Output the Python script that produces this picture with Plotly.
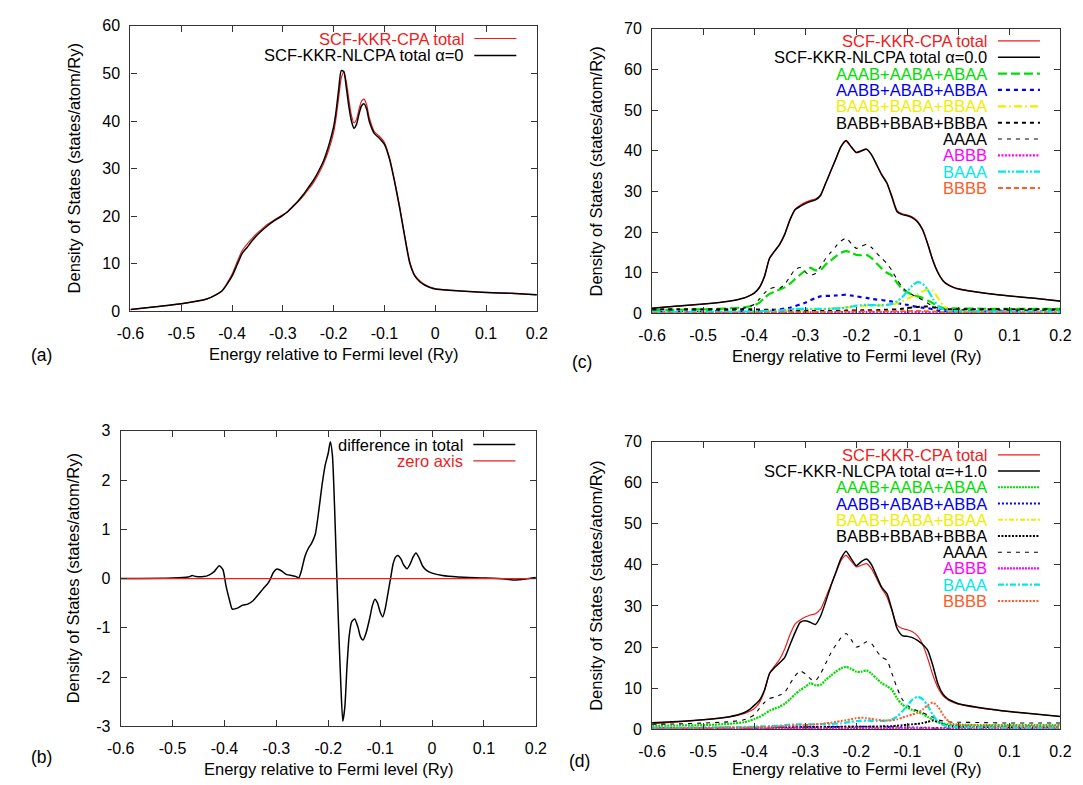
import plotly.graph_objects as go

W, H = 1083, 785

# ---------------- Panel (a) data ----------------
energy_a = [-0.6, -0.55, -0.5, -0.45, -0.43, -0.42, -0.41, -0.40, -0.39, -0.38, -0.37, -0.36,
            -0.35, -0.34, -0.33, -0.32, -0.31, -0.30, -0.29, -0.28, -0.27, -0.26, -0.25, -0.24,
            -0.23, -0.22, -0.21, -0.20, -0.195, -0.19, -0.185, -0.18, -0.175, -0.17, -0.165, -0.16,
            -0.155, -0.15, -0.145, -0.14, -0.135, -0.13, -0.12, -0.11, -0.10, -0.09, -0.08, -0.07,
            -0.06, -0.05, -0.04, -0.03, -0.02, -0.01, 0.0, 0.05, 0.1, 0.15, 0.2]
cpa_total_a = [0.4, 1.0, 1.6, 2.6, 3.6, 4.3, 5.9, 7.8, 10.4, 12.8, 14.2, 15.4,
               16.5, 17.4, 18.3, 19.0, 19.7, 20.3, 21.0, 22.0, 23.0, 24.2, 25.6, 27.0,
               28.8, 31.0, 33.8, 37.6, 40.8, 45.0, 49.0, 50.3, 48.2, 44.5, 41.2, 39.6,
               40.3, 42.5, 44.2, 44.6, 43.4, 40.8, 37.8, 36.8, 35.5, 32.3, 27.5, 22.0,
               16.0, 10.4, 7.6, 6.4, 5.6, 5.1, 4.8, 4.3, 4.0, 3.8, 3.5]
nlcpa_total_a = [0.4, 1.0, 1.6, 2.6, 3.6, 4.3, 5.7, 7.4, 9.8, 12.2, 13.5, 14.9,
                 16.1, 17.1, 18.0, 18.8, 19.5, 20.2, 21.0, 22.1, 23.2, 24.5, 26.0, 27.5,
                 29.4, 31.6, 34.7, 38.8, 42.2, 46.7, 50.6, 50.4, 47.0, 43.0, 40.0, 38.5,
                 39.3, 41.5, 43.2, 43.6, 42.5, 40.0, 37.4, 36.4, 35.1, 32.0, 27.2, 21.7,
                 15.6, 10.1, 7.4, 6.2, 5.5, 5.0, 4.7, 4.3, 4.0, 3.8, 3.5]

# ---------------- Panel (b) data ----------------
energy_b = [-0.6, -0.5, -0.47, -0.462, -0.455, -0.44, -0.43, -0.42, -0.41, -0.403, -0.397, -0.39,
            -0.385, -0.375, -0.365, -0.355, -0.345, -0.335, -0.325, -0.318, -0.312, -0.306, -0.30,
            -0.294, -0.287, -0.28, -0.27, -0.262, -0.257, -0.252, -0.245, -0.238, -0.232, -0.225,
            -0.218, -0.212, -0.206, -0.20, -0.196, -0.192, -0.188, -0.184, -0.18, -0.176, -0.172,
            -0.168, -0.164, -0.16, -0.155, -0.149, -0.143, -0.138, -0.133, -0.127, -0.12, -0.115,
            -0.11, -0.105, -0.10, -0.095, -0.09, -0.085, -0.08, -0.075, -0.07, -0.066, -0.06,
            -0.055, -0.048, -0.042, -0.036, -0.031, -0.025, -0.018, -0.01, 0.0, 0.02, 0.05, 0.1,
            0.14, 0.16, 0.18, 0.2]
diff_total_b = [0.0, 0.01, 0.03, 0.06, 0.04, 0.04, 0.07, 0.14, 0.26, 0.18, -0.15, -0.45,
                -0.62, -0.6, -0.54, -0.52, -0.45, -0.33, -0.2, -0.12, -0.02, 0.12, 0.19,
                0.18, 0.13, 0.08, 0.06, 0.04, 0.01, 0.15, 0.45, 0.62, 0.72, 0.9,
                1.4, 1.9, 2.3, 2.55, 2.78, 2.5, 1.5, 0.2, -1.0, -2.1, -2.9,
                -2.6, -1.8, -1.2, -0.88, -0.82, -0.98, -1.18, -1.25, -1.1, -0.8, -0.55,
                -0.42, -0.5, -0.68, -0.78, -0.6, -0.3, 0.0, 0.3, 0.44, 0.47, 0.4,
                0.28, 0.2, 0.3, 0.45, 0.52, 0.42, 0.25, 0.16, 0.11, 0.06, 0.03, 0.01,
                -0.01, -0.03, -0.01, 0.02]
zero_axis_x = [-0.6, 0.2]
zero_axis_y = [0.0, 0.0]

# ---------------- Panels (c) and (d) data ----------------
energy_cd = [-0.6, -0.55, -0.5, -0.45, -0.42, -0.41, -0.40, -0.39, -0.38, -0.37, -0.36, -0.35,
             -0.34, -0.33, -0.32, -0.31, -0.30, -0.29, -0.28, -0.27, -0.26, -0.25, -0.24, -0.23,
             -0.22, -0.21, -0.20, -0.19, -0.18, -0.17, -0.16, -0.15, -0.14, -0.13, -0.12, -0.11,
             -0.10, -0.09, -0.08, -0.07, -0.06, -0.05, -0.04, -0.03, -0.02, -0.01, 0.0, 0.05,
             0.1, 0.15, 0.2]
cpa_total_cd = [1.3, 1.8, 2.3, 3.0, 3.8, 4.3, 5.0, 6.4, 9.2, 13.6, 15.4, 17.1,
                19.6, 23.0, 25.6, 26.6, 27.3, 27.8, 28.1, 29.2, 32.0, 35.0, 38.0, 41.0,
                42.3, 40.9, 39.5, 39.9, 40.3, 39.0, 36.6, 34.2, 32.2, 28.8, 25.3, 24.5,
                24.2, 23.7, 22.7, 20.7, 17.2, 13.2, 10.1, 8.1, 7.1, 6.5, 6.1, 5.0,
                4.3, 3.7, 3.1]
nlcpa_total_c = [1.3, 1.8, 2.3, 3.0, 3.8, 4.3, 5.0, 6.3, 9.0, 13.5, 15.3, 17.0,
                 19.5, 23.0, 25.5, 26.3, 27.0, 27.5, 27.9, 29.0, 32.0, 35.0, 38.0, 41.0,
                 42.5, 41.0, 39.6, 40.0, 40.4, 39.0, 36.5, 34.0, 32.0, 28.5, 25.0, 24.3,
                 24.0, 23.5, 22.5, 20.5, 17.0, 13.0, 10.0, 8.0, 7.0, 6.4, 6.0, 5.0,
                 4.3, 3.7, 3.0]
aaab_c = [0.8, 0.9, 1.0, 1.2, 1.5, 1.7, 2.0, 2.6, 3.8, 4.8, 5.4, 5.9,
          6.4, 7.3, 8.4, 9.5, 10.5, 11.2, 10.6, 10.7, 12.0, 13.0, 14.0, 14.9,
          15.3, 15.0, 14.4, 14.3, 14.4, 13.6, 12.3, 11.0, 10.0, 9.3, 7.5, 6.0,
          5.2, 4.6, 4.2, 3.8, 3.2, 2.5, 1.8, 1.4, 1.3, 1.25, 1.2, 1.15,
          1.1, 1.1, 1.1]
aabb_c = [0.4, 0.4, 0.45, 0.5, 0.55, 0.6, 0.6, 0.65, 0.7, 0.8, 0.9, 1.0,
          1.2, 1.4, 1.8, 2.2, 2.6, 3.2, 3.8, 4.2, 4.3, 4.3, 4.4, 4.5,
          4.6, 4.4, 4.2, 4.0, 3.8, 3.6, 3.4, 3.3, 3.1, 2.9, 2.6, 2.3,
          2.1, 1.8, 1.6, 1.4, 1.3, 1.0, 0.7, 0.55, 0.5, 0.5, 0.5, 0.45,
          0.45, 0.45, 0.45]
baab_c = [0.2, 0.2, 0.25, 0.3, 0.35, 0.35, 0.4, 0.4, 0.45, 0.5, 0.55, 0.6,
          0.65, 0.7, 0.75, 0.8, 0.85, 0.9, 0.95, 1.0, 1.1, 1.2, 1.3, 1.4,
          1.5, 1.6, 1.7, 1.8, 1.9, 1.9, 2.0, 2.0, 2.1, 2.2, 2.5, 3.0,
          3.6, 4.2, 4.8, 5.4, 5.9, 5.6, 3.8, 2.0, 1.0, 0.7, 0.5, 0.4,
          0.35, 0.3, 0.3]
babb_c = [1.0, 1.0, 1.0, 1.0, 1.0, 1.0, 1.0, 0.95, 0.9, 0.9, 0.85, 0.8,
          0.75, 0.7, 0.65, 0.6, 0.6, 0.6, 0.6, 0.6, 0.6, 0.6, 0.65, 0.65,
          0.7, 0.7, 0.7, 0.75, 0.75, 0.8, 0.8, 0.85, 0.9, 0.95, 1.0, 1.15,
          1.3, 1.45, 1.6, 1.7, 1.7, 1.5, 1.3, 1.1, 1.0, 1.0, 1.0, 1.0,
          1.0, 1.0, 1.0]
aaaa_c = [0.3, 0.4, 0.5, 0.8, 1.3, 1.7, 2.2, 3.5, 5.0, 6.0, 6.4, 6.2,
          7.2, 9.0, 10.8, 11.3, 10.2, 9.4, 9.8, 11.5, 13.5, 15.0, 16.5, 17.8,
          18.5, 17.2, 16.0, 16.5, 17.0, 16.2, 14.8, 13.5, 12.3, 10.5, 8.3, 6.5,
          5.3, 4.6, 4.0, 3.3, 2.5, 1.8, 1.3, 1.1, 1.0, 0.95, 0.9, 0.85,
          0.8, 0.8, 0.8]
abbb_c = [0.15, 0.15, 0.15, 0.15, 0.15, 0.15, 0.15, 0.15, 0.2, 0.2, 0.2, 0.2,
          0.2, 0.2, 0.2, 0.25, 0.25, 0.25, 0.25, 0.25, 0.25, 0.25, 0.3, 0.3,
          0.3, 0.3, 0.3, 0.3, 0.3, 0.3, 0.3, 0.3, 0.3, 0.3, 0.3, 0.3,
          0.3, 0.3, 0.3, 0.3, 0.3, 0.25, 0.2, 0.2, 0.2, 0.2, 0.2, 0.2,
          0.2, 0.2, 0.2]
baaa_c = [0.3, 0.3, 0.35, 0.4, 0.45, 0.5, 0.5, 0.55, 0.6, 0.65, 0.7, 0.75,
          0.85, 0.95, 1.05, 1.1, 1.1, 1.1, 1.1, 1.1, 1.1, 1.15, 1.2, 1.3,
          1.45, 1.65, 1.9, 2.05, 2.1, 2.05, 2.0, 2.0, 2.1, 2.4, 3.0, 4.0,
          5.4, 6.9, 7.7, 7.3, 5.8, 3.6, 1.9, 1.0, 0.7, 0.55, 0.5, 0.45,
          0.4, 0.4, 0.4]
bbbb_c = [0.1, 0.1, 0.1, 0.12, 0.15, 0.15, 0.15, 0.2, 0.2, 0.2, 0.25, 0.25,
          0.25, 0.3, 0.3, 0.3, 0.3, 0.35, 0.35, 0.35, 0.4, 0.4, 0.4, 0.45,
          0.45, 0.45, 0.5, 0.5, 0.5, 0.5, 0.5, 0.5, 0.5, 0.5, 0.55, 0.55,
          0.6, 0.6, 0.6, 0.6, 0.55, 0.5, 0.4, 0.3, 0.25, 0.2, 0.2, 0.2,
          0.2, 0.2, 0.2]

nlcpa_total_d = [1.6, 1.9, 2.3, 3.0, 4.0, 4.7, 5.8, 7.0, 9.5, 13.5, 15.0, 16.2,
                 17.5, 20.5, 23.5, 26.0, 26.4, 26.0, 25.5, 27.5, 31.0, 34.8, 38.2, 41.5,
                 43.3, 41.5, 39.8, 40.8, 41.4, 40.0, 37.2, 34.5, 33.0, 29.0, 24.5, 22.8,
                 22.6, 22.3, 21.6, 20.6, 19.2, 15.5, 11.0, 8.5, 7.3, 6.7, 6.2, 5.1,
                 4.3, 3.7, 3.1]
aaab_d = [0.8, 0.9, 1.0, 1.3, 1.7, 2.0, 2.5, 3.0, 3.7, 4.5, 5.0, 5.5,
          6.2, 7.3, 8.5, 9.5, 10.3, 11.2, 10.7, 10.8, 12.0, 13.0, 14.0, 14.8,
          15.2, 14.7, 14.0, 14.0, 14.3, 13.5, 12.3, 11.2, 10.5, 9.6, 7.5, 6.0,
          5.2, 4.7, 4.2, 3.7, 3.0, 2.3, 1.7, 1.4, 1.2, 1.1, 1.1, 1.0,
          1.0, 1.0, 1.0]
aabb_d = [0.2, 0.2, 0.25, 0.3, 0.3, 0.3, 0.35, 0.35, 0.4, 0.4, 0.45, 0.45,
          0.5, 0.5, 0.5, 0.55, 0.55, 0.55, 0.55, 0.55, 0.6, 0.6, 0.6, 0.6,
          0.6, 0.6, 0.6, 0.6, 0.6, 0.55, 0.55, 0.5, 0.5, 0.5, 0.45, 0.45,
          0.4, 0.4, 0.4, 0.35, 0.35, 0.3, 0.3, 0.25, 0.25, 0.25, 0.2, 0.2,
          0.2, 0.2, 0.2]
baab_d = [0.1, 0.1, 0.1, 0.1, 0.1, 0.1, 0.1, 0.1, 0.1, 0.1, 0.12, 0.12,
          0.12, 0.12, 0.12, 0.12, 0.15, 0.15, 0.15, 0.15, 0.15, 0.15, 0.15, 0.15,
          0.15, 0.15, 0.15, 0.15, 0.15, 0.15, 0.15, 0.15, 0.15, 0.15, 0.15, 0.15,
          0.15, 0.15, 0.15, 0.15, 0.15, 0.15, 0.12, 0.12, 0.1, 0.1, 0.1, 0.1,
          0.1, 0.1, 0.1]
babb_d = [0.3, 0.3, 0.3, 0.35, 0.35, 0.35, 0.4, 0.4, 0.4, 0.4, 0.45, 0.45,
          0.45, 0.45, 0.5, 0.5, 0.5, 0.5, 0.5, 0.5, 0.55, 0.55, 0.55, 0.55,
          0.6, 0.6, 0.6, 0.6, 0.6, 0.65, 0.65, 0.7, 0.7, 0.75, 0.85, 0.95,
          1.1, 1.2, 1.3, 1.5, 1.8, 2.1, 1.8, 1.2, 0.8, 0.7, 0.6, 0.55,
          0.5, 0.5, 0.5]
aaaa_d = [1.2, 1.3, 1.5, 1.8, 2.3, 2.8, 3.5, 5.0, 6.5, 7.5, 7.8, 8.3,
          9.0, 11.0, 13.0, 14.2, 13.5, 12.3, 11.8, 13.5, 16.0, 18.5, 20.5, 22.2,
          23.3, 21.8, 20.0, 20.5, 21.3, 20.8, 19.0, 17.5, 16.8, 13.5, 10.0, 7.3,
          5.8, 5.0, 4.5, 4.0, 3.5, 2.9, 2.3, 2.0, 1.8, 1.7, 1.7, 1.6,
          1.5, 1.5, 1.5]
abbb_d = [0.15, 0.15, 0.15, 0.15, 0.15, 0.15, 0.15, 0.15, 0.15, 0.15, 0.15, 0.15,
          0.18, 0.18, 0.18, 0.18, 0.18, 0.2, 0.2, 0.2, 0.2, 0.2, 0.2, 0.2,
          0.2, 0.2, 0.2, 0.2, 0.2, 0.2, 0.2, 0.2, 0.2, 0.2, 0.2, 0.2,
          0.2, 0.2, 0.2, 0.2, 0.2, 0.18, 0.15, 0.15, 0.15, 0.15, 0.15, 0.15,
          0.15, 0.15, 0.15]
baaa_d = [0.4, 0.4, 0.45, 0.5, 0.55, 0.6, 0.6, 0.65, 0.7, 0.75, 0.8, 0.9,
          1.0, 1.1, 1.15, 1.2, 1.2, 1.2, 1.2, 1.2, 1.25, 1.3, 1.35, 1.45,
          1.6, 1.8, 2.0, 2.1, 2.1, 2.05, 2.0, 2.0, 2.1, 2.4, 3.1, 4.3,
          5.8, 7.2, 7.9, 7.3, 5.7, 3.5, 1.8, 1.0, 0.7, 0.55, 0.5, 0.45,
          0.4, 0.4, 0.4]
bbbb_d = [0.2, 0.25, 0.3, 0.35, 0.4, 0.4, 0.45, 0.5, 0.55, 0.6, 0.65, 0.7,
          0.8, 0.85, 0.9, 0.95, 1.0, 1.1, 1.2, 1.3, 1.45, 1.6, 1.8, 2.0,
          2.2, 2.45, 2.7, 2.8, 2.7, 2.5, 2.3, 2.15, 2.1, 2.2, 2.4, 2.8,
          3.2, 3.6, 4.0, 4.8, 5.8, 6.5, 5.5, 3.5, 2.0, 1.3, 1.0, 0.85,
          0.8, 0.75, 0.7]

# ---------------- Tick labels / texts ----------------
x_tickvals = [-0.6, -0.5, -0.4, -0.3, -0.2, -0.1, 0.0, 0.1, 0.2]
x_ticktext = ["-0.6", "-0.5", "-0.4", "-0.3", "-0.2", "-0.1", "0", "0.1", "0.2"]
y_tickvals_a = [0, 10, 20, 30, 40, 50, 60]
y_tickvals_b = [-3, -2, -1, 0, 1, 2, 3]
y_ticktext_b = ["-3", "-2", "-1", "0", "1", "2", "3"]
y_tickvals_cd = [0, 10, 20, 30, 40, 50, 60, 70]
x_title = "Energy relative to Fermi level (Ry)"
y_title = "Density of States (states/atom/Ry)"

FONT = "Liberation Sans, Arial, Helvetica, sans-serif"
TICK_FS = 16
TITLE_FS = 16.5
LEG_FS = 16.5

RED = "#ee1c1c"
BLACK = "#000000"
GREEN = "#00dd00"
BLUE = "#0000ee"
YELLOW = "#eeee00"
MAGENTA = "#ff00ff"
CYAN = "#00e8e8"
ORANGE = "#ff5a28"

# panel boxes in pixels: left, right, top, bottom
boxes = {
    "a": (111, 527, 10, 302),
    "b": (101, 526, 424, 726),
    "c": (645, 1063, 13, 304),
    "d": (645, 1063, 435, 729),
}
axis_ids = {"a": ("x", "y"), "b": ("x2", "y2"), "c": ("x3", "y3"), "d": ("x4", "y4")}


def px2x(p):
    return p / W


def px2y(p):
    return 1 - p / H


fig = go.Figure()


def add_line(panel, x, y, color, width, dash="solid"):
    xa, ya = axis_ids[panel]
    fig.add_trace(go.Scatter(
        x=x, y=y, mode="lines", xaxis=xa, yaxis=ya, showlegend=False, hoverinfo="skip",
        line=dict(color=color, width=width, dash=dash, shape="spline", smoothing=0.6)))


# panel a
add_line("a", energy_a, cpa_total_a, RED, 1.2)
add_line("a", energy_a, nlcpa_total_a, BLACK, 1.5)
# panel b
add_line("b", energy_b, diff_total_b, BLACK, 1.5)
add_line("b", zero_axis_x, zero_axis_y, RED, 1.2)

# panel c
styles_c = [
    (cpa_total_cd, RED, 1.2, "solid", "SCF-KKR-CPA total"),
    (nlcpa_total_c, BLACK, 1.5, "solid", "SCF-KKR-NLCPA total \u03b1=0.0"),
    (aaab_c, GREEN, 2.2, "9px,4px", "AAAB+AABA+ABAA"),
    (aabb_c, BLUE, 2.2, "4px,4px", "AABB+ABAB+ABBA"),
    (baab_c, YELLOW, 2.2, "8px,3px,2px,3px", "BAAB+BABA+BBAA"),
    (babb_c, BLACK, 2.0, "4px,4px", "BABB+BBAB+BBBA"),
    (aaaa_c, BLACK, 1.1, "4px,5px", "AAAA"),
    (abbb_c, MAGENTA, 2.2, "2px,1.5px", "ABBB"),
    (baaa_c, CYAN, 2.2, "8px,2px,2px,2px,2px,2px", "BAAA"),
    (bbbb_c, ORANGE, 1.8, "5px,3px", "BBBB"),
]
styles_d = [
    (cpa_total_cd, RED, 1.2, "solid", "SCF-KKR-CPA total"),
    (nlcpa_total_d, BLACK, 1.5, "solid", "SCF-KKR-NLCPA total \u03b1=+1.0"),
    (aaab_d, GREEN, 2.2, "2px,1px", "AAAB+AABA+ABAA"),
    (aabb_d, BLUE, 2.0, "2px,2px", "AABB+ABAB+ABBA"),
    (baab_d, YELLOW, 2.0, "5px,2px,2px,2px", "BAAB+BABA+BBAA"),
    (babb_d, BLACK, 2.0, "2px,1.5px", "BABB+BBAB+BBBA"),
    (aaaa_d, BLACK, 1.1, "4px,5px", "AAAA"),
    (abbb_d, MAGENTA, 2.2, "2px,1px", "ABBB"),
    (baaa_d, CYAN, 2.2, "6px,2px,2px,2px", "BAAA"),
    (bbbb_d, ORANGE, 2.0, "2px,1.5px", "BBBB"),
]
for ys, col, w, dsh, _ in styles_c:
    add_line("c", energy_cd, ys, col, w, dsh)
for ys, col, w, dsh, _ in styles_d:
    add_line("d", energy_cd, ys, col, w, dsh)

legend_a = [("SCF-KKR-CPA total", RED, 1.2, "solid"),
            ("SCF-KKR-NLCPA total \u03b1=0", BLACK, 1.5, "solid")]
legend_b = [("difference in total", BLACK, 1.5, "solid"),
            ("zero axis", RED, 1.2, "solid")]

annotations = []
shapes = []


def add_legend(panel, entries, first, spacing):
    l, r, t, b = boxes[panel]
    for i, (label, col, w, dsh) in enumerate(entries):
        yy = t + first + i * spacing
        annotations.append(dict(
            x=px2x(r - 73), y=px2y(yy), xref="paper", yref="paper", text=label,
            showarrow=False, xanchor="right", yanchor="middle",
            font=dict(family=FONT, size=LEG_FS, color=col)))
        shapes.append(dict(
            type="line", xref="paper", yref="paper",
            x0=px2x(r - 64), x1=px2x(r - 21), y0=px2y(yy), y1=px2y(yy),
            line=dict(color=col, width=w, dash=dsh)))


add_legend("a", legend_a, 13, 17.3)
add_legend("b", legend_b, 14, 16.7)
add_legend("c", [(s[4], s[1], s[2], s[3]) for s in styles_c], 12.5, 16.7)
add_legend("d", [(s[4], s[1], s[2], s[3]) for s in styles_d], 13.5, 16.6)

# panel letters and axis titles
letters = {"a": (20, 346), "b": (20, 757), "c": (573, 354), "d": (571, 762)}
for k, (lx, ly) in letters.items():
    annotations.append(dict(x=px2x(lx), y=px2y(ly), xref="paper", yref="paper",
                            text="(%s)" % k, showarrow=False, xanchor="center", yanchor="middle",
                            font=dict(family=FONT, size=TITLE_FS + 1, color="black")))

xtitle_y = {"a": 345, "b": 770, "c": 348, "d": 770}
ytitle_x = {"a": 53, "b": 52, "c": 588, "d": 588}
for k, (l, r, t, b) in boxes.items():
    annotations.append(dict(x=px2x((l + r) / 2), y=px2y(xtitle_y[k]), xref="paper", yref="paper",
                            text=x_title, showarrow=False, xanchor="center", yanchor="middle",
                            font=dict(family=FONT, size=TITLE_FS, color="black")))
    annotations.append(dict(x=px2x(ytitle_x[k]), y=px2y((t + b) / 2), xref="paper", yref="paper",
                            text=y_title, showarrow=False, xanchor="center", yanchor="middle",
                            textangle=-90, font=dict(family=FONT, size=TITLE_FS, color="black")))

axis_common = dict(showgrid=False, zeroline=False, showline=True, linecolor="#333333",
                   linewidth=1.2, mirror="allticks", ticks="inside", ticklen=6,
                   tickcolor="#333333", tickwidth=1,
                   tickfont=dict(family=FONT, size=TICK_FS, color="black"))

layout_axes = {}
yinfo = {
    "a": dict(range=[0, 60], tickvals=y_tickvals_a, ticktext=[str(v) for v in y_tickvals_a]),
    "b": dict(range=[-3, 3], tickvals=y_tickvals_b, ticktext=y_ticktext_b),
    "c": dict(range=[0, 70], tickvals=y_tickvals_cd, ticktext=[str(v) for v in y_tickvals_cd]),
    "d": dict(range=[0, 70], tickvals=y_tickvals_cd, ticktext=[str(v) for v in y_tickvals_cd]),
}
for k, (l, r, t, b) in boxes.items():
    xa, ya = axis_ids[k]
    xname = "xaxis" if xa == "x" else "xaxis" + xa[1:]
    yname = "yaxis" if ya == "y" else "yaxis" + ya[1:]
    layout_axes[xname] = dict(axis_common, domain=[px2x(l), px2x(r)], range=[-0.6, 0.2],
                              tickvals=x_tickvals, ticktext=x_ticktext, anchor=ya,
                              tickmode="array", ticklabelstandoff=7)
    layout_axes[yname] = dict(axis_common, domain=[px2y(b), px2y(t)], anchor=xa,
                              tickmode="array", ticklabelstandoff=6, **yinfo[k])

fig.update_layout(
    width=W, height=H, margin=dict(l=0, r=0, t=0, b=0),
    paper_bgcolor="white", plot_bgcolor="white", showlegend=False,
    annotations=annotations, shapes=shapes, **layout_axes)

fig.write_html("out.html")
